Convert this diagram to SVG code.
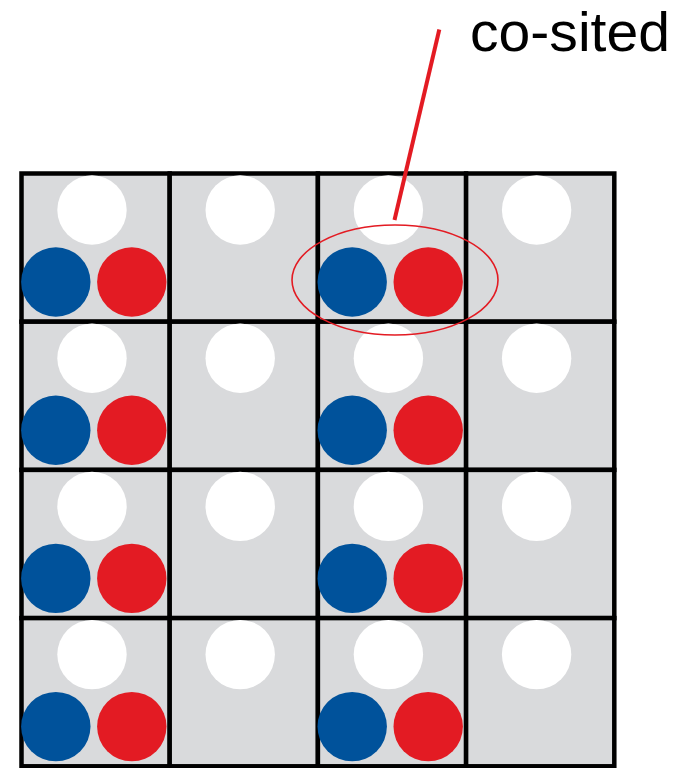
<svg xmlns="http://www.w3.org/2000/svg" width="687" height="768" viewBox="0 0 687 768">
  <style>
    .cell { fill: #d9dadc; stroke: #000; stroke-width: 4.5; }
    .luma { fill: #ffffff; }
    .cb { fill: #00529b; }
    .cr { fill: #e31b23; }
    .label { font-family: "Liberation Sans", Arial, sans-serif; font-size: 56px; fill: #000; }
    .callout { fill: none; stroke: #e31b23; }
  </style>
  <defs>
    <!-- one sample cell: luma only -->
    <g id="luma-cell">
      <rect class="cell" x="0" y="0" width="148.2" height="148.2"/>
      <circle class="luma" cx="70.5" cy="36.5" r="34.7"/>
    </g>
    <!-- one sample cell: luma plus co-sited chroma -->
    <g id="full-cell">
      <rect class="cell" x="0" y="0" width="148.2" height="148.2"/>
      <circle class="luma" cx="70.5" cy="36.5" r="34.7"/>
      <circle class="cb" cx="34.3" cy="108.5" r="34.7"/>
      <circle class="cr" cx="110.3" cy="108.5" r="34.7"/>
    </g>
  </defs>

  <g id="grid">
    <g id="cell-r1c1"><use href="#full-cell" x="21.5" y="173.5"/></g>
    <g id="cell-r1c2"><use href="#luma-cell" x="169.7" y="173.5"/></g>
    <g id="cell-r1c3"><use href="#full-cell" x="317.9" y="173.5"/></g>
    <g id="cell-r1c4"><use href="#luma-cell" x="466.1" y="173.5"/></g>

    <g id="cell-r2c1"><use href="#full-cell" x="21.5" y="321.7"/></g>
    <g id="cell-r2c2"><use href="#luma-cell" x="169.7" y="321.7"/></g>
    <g id="cell-r2c3"><use href="#full-cell" x="317.9" y="321.7"/></g>
    <g id="cell-r2c4"><use href="#luma-cell" x="466.1" y="321.7"/></g>

    <g id="cell-r3c1"><use href="#full-cell" x="21.5" y="469.9"/></g>
    <g id="cell-r3c2"><use href="#luma-cell" x="169.7" y="469.9"/></g>
    <g id="cell-r3c3"><use href="#full-cell" x="317.9" y="469.9"/></g>
    <g id="cell-r3c4"><use href="#luma-cell" x="466.1" y="469.9"/></g>

    <g id="cell-r4c1"><use href="#full-cell" x="21.5" y="618.1"/></g>
    <g id="cell-r4c2"><use href="#luma-cell" x="169.7" y="618.1"/></g>
    <g id="cell-r4c3"><use href="#full-cell" x="317.9" y="618.1"/></g>
    <g id="cell-r4c4"><use href="#luma-cell" x="466.1" y="618.1"/></g>
  </g>

  <g id="cosited-highlight">
    <ellipse class="callout" cx="395" cy="280" rx="103" ry="55" stroke-width="1.6"/>
  </g>

  <g id="connectors">
    <line class="callout" x1="439.3" y1="29.5" x2="394.5" y2="220" stroke-width="4"/>
  </g>

  <g id="label-cosited">
    <text class="label" x="470" y="51" textLength="200" lengthAdjust="spacingAndGlyphs">co-sited</text>
  </g>
</svg>
